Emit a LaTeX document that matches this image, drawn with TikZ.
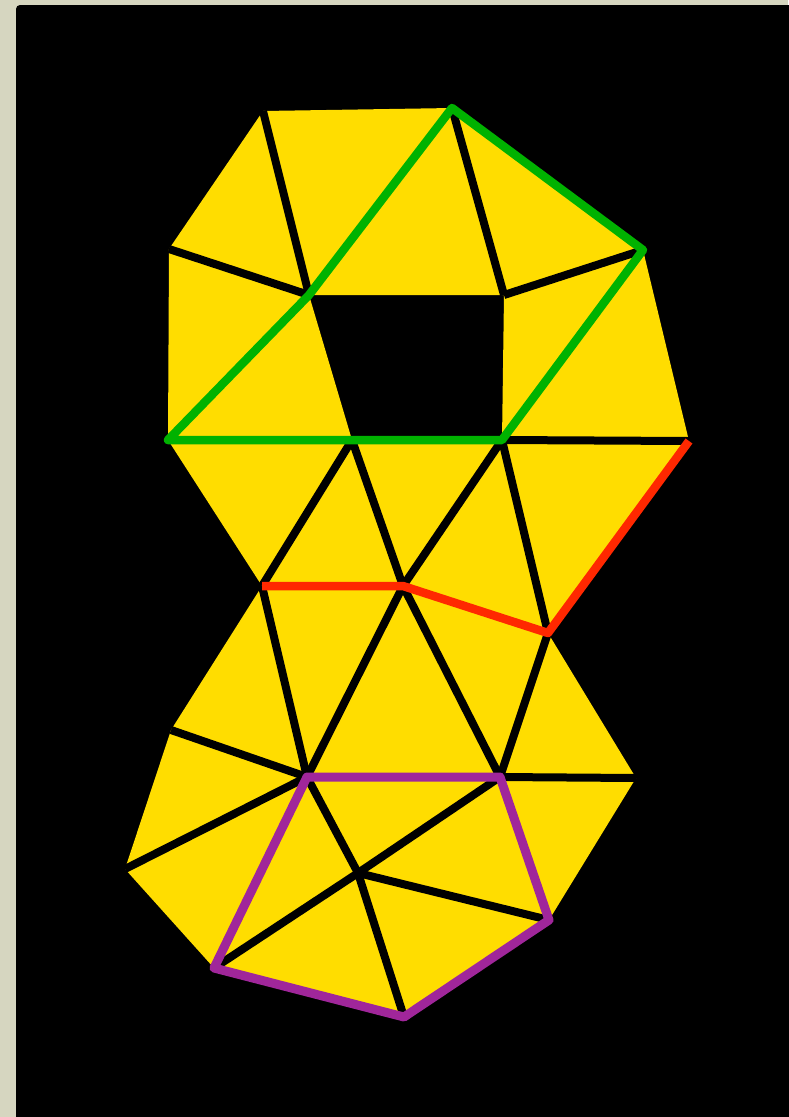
\documentclass[tikz,border=0pt]{standalone}
\definecolor{bgbeige}{RGB}{214,214,192}
\definecolor{tri}{RGB}{255,221,0}
\definecolor{grn}{RGB}{0,178,0}
\definecolor{rd}{RGB}{255,40,0}
\definecolor{prp}{RGB}{160,38,154}
\begin{document}
\begin{tikzpicture}[x=1pt,y=-1pt,
  face/.style={fill=tri},
  seam/.style={draw=black,line width=8pt},
  greenpath/.style={draw=grn,line width=8.5pt,line join=round,line cap=round},
  redpath/.style={draw=rd,line width=8.5pt,line join=round},
  purplepath/.style={draw=prp,line width=9pt,line join=round}]
\useasboundingbox (0,0) rectangle (788,1117);
\fill[bgbeige] (0,0) rectangle (788,1117);
\fill[black,rounded corners=4pt] (16,5) -- (795,5) -- (795,1125) -- (16,1125) -- cycle;
% vertices
\coordinate (A) at (263,111);
\coordinate (B) at (452,108);
\coordinate (C) at (643,250);
\coordinate (D) at (169,249);
\coordinate (P) at (309,295);
\coordinate (Q) at (504,295);
\coordinate (E) at (168,440);
\coordinate (F) at (352,440);
\coordinate (G) at (502,440);
\coordinate (H) at (689,441);
\coordinate (I) at (262,586);
\coordinate (J) at (403,586);
\coordinate (K) at (548,633);
\coordinate (L) at (171,730);
\coordinate (M) at (307,777);
\coordinate (N) at (500,777);
\coordinate (O) at (636,778);
\coordinate (R) at (125,869);
\coordinate (S) at (358,873);
\coordinate (T) at (214,968);
\coordinate (U) at (404,1017);
\coordinate (V) at (549,920);
% faces
\foreach \a/\b/\c in {A/D/P, A/B/P, B/P/Q, B/C/Q, D/P/E, P/E/F, Q/C/G, C/G/H,
  E/F/I, F/I/J, F/G/J, G/J/K, G/H/K,
  I/L/M, I/J/M, J/M/N, J/N/K, K/N/O,
  L/R/M, R/T/M, M/S/T, M/N/S, N/V/S, N/O/V, S/T/U, S/U/V}
  \fill[face] (\a) -- (\b) -- (\c) -- cycle;
% seams
\foreach \a/\b in {A/P, D/P, B/Q, C/Q, G/H, F/I, F/J, G/J, G/K,
  I/M, L/M, J/M, J/N, N/K, N/O, R/M, M/S, S/T, N/S, S/V, S/U}
  \draw[seam] (\a) -- (\b);
% coloured paths
\draw[greenpath] (E) -- (P) -- (B) -- (C) -- (G) -- (F) -- cycle;
\draw[redpath] (I) -- (J) -- (K) -- (H);
\draw[purplepath] (M) -- (N) -- (V) -- (U) -- (T) -- cycle;
\end{tikzpicture}
\end{document}
